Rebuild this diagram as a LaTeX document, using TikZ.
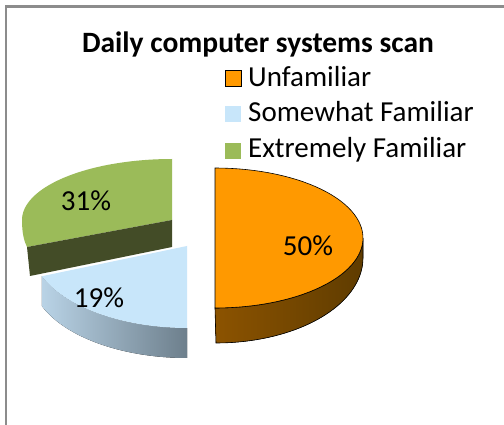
\documentclass[tikz,border=0pt]{standalone}
\usepackage{fontspec}
\setmainfont{Carlito}
\definecolor{orangeTop}{HTML}{FF9900}
\definecolor{orangeSideL}{HTML}{8C5300}
\definecolor{orangeSideR}{HTML}{5F3C00}
\definecolor{blueTop}{HTML}{C8E6FA}
\definecolor{blueSideL}{HTML}{B9D3E6}
\definecolor{blueSideR}{HTML}{6D7F8C}
\definecolor{greenTop}{HTML}{9BBB59}
\definecolor{greenDark}{HTML}{434C27}
\definecolor{frameGray}{HTML}{8C8C8C}
\begin{document}
\begin{tikzpicture}[x=1pt,y=-1pt,
  txt/.style={font=\fontsize{29}{30}\selectfont, inner sep=0pt, text=black},
  keybox/.style={minimum size=16pt, inner sep=0pt, outer sep=0pt}]
\useasboundingbox (0,0) rectangle (504,425);
\fill[white] (0,0) rectangle (504,425);
\draw[frameGray, line width=2.5pt] (6,426) -- (6,6.5) -- (505,6.5);

% title
\node[txt, font=\fontsize{29.5}{31}\selectfont\bfseries, anchor=base] (title) at (258,53) {Daily computer systems scan};

% legend
\node[keybox, fill=orangeTop, draw=black, line width=1.2pt] (ku) at (233.5,78.5) {};
\node[keybox, fill=blueTop] (ks) at (233,114) {};
\node[keybox, fill=greenTop] (ke) at (233,151) {};
\node[txt, anchor=base west] (lu) at (248,87) {Unfamiliar};
\node[txt, anchor=base west] (ls) at (248,122) {Somewhat Familiar};
\node[txt, anchor=base west] (le) at (248,158) {Extremely Familiar};

% green slice (Extremely Familiar)
\fill[greenTop] (172,220) -- plot[domain=270:180, samples=40, variable=\t] ({172+150*cos(\t)},{220+61*sin(\t)})
   .. controls (22,233) and (24,241) .. (27,247) -- cycle;
\fill[greenDark] (172,220) -- (27,247) -- (30,276) -- (172,247) -- cycle;

% blue slice (Somewhat Familiar)
\fill[left color=blueSideL, right color=blueSideR]
   plot[domain=90:158.4, samples=30, variable=\t] ({187+156*cos(\t)},{246+82*sin(\t)})
   -- plot[domain=158.4:90, samples=30, variable=\t] ({187+156*cos(\t)},{276+82*sin(\t)}) -- cycle;
\fill[blueTop] (187,246) -- plot[domain=90:158.4, samples=30, variable=\t] ({187+156*cos(\t)},{246+82*sin(\t)}) -- cycle;

% orange slice (Unfamiliar)
\filldraw[left color=orangeSideL, right color=orangeSideR, draw=black, line width=0.6pt]
   plot[domain=0:90, samples=40, variable=\t] ({215+148*cos(\t)},{238+70*sin(\t)})
   -- plot[domain=90:0, samples=40, variable=\t] ({216+147*cos(\t)},{258+85*sin(\t)}) -- cycle;
\filldraw[fill=orangeTop, draw=black, line width=0.6pt]
   plot[domain=-90:90, samples=60, variable=\t] ({215+148*cos(\t)},{238+70*sin(\t)}) -- cycle;

% data labels
\node[txt] (p31) at (86,201) {31\%};
\node[txt] (p19) at (99,298) {19\%};
\node[txt] (p50) at (308,246) {50\%};
\end{tikzpicture}
\end{document}
